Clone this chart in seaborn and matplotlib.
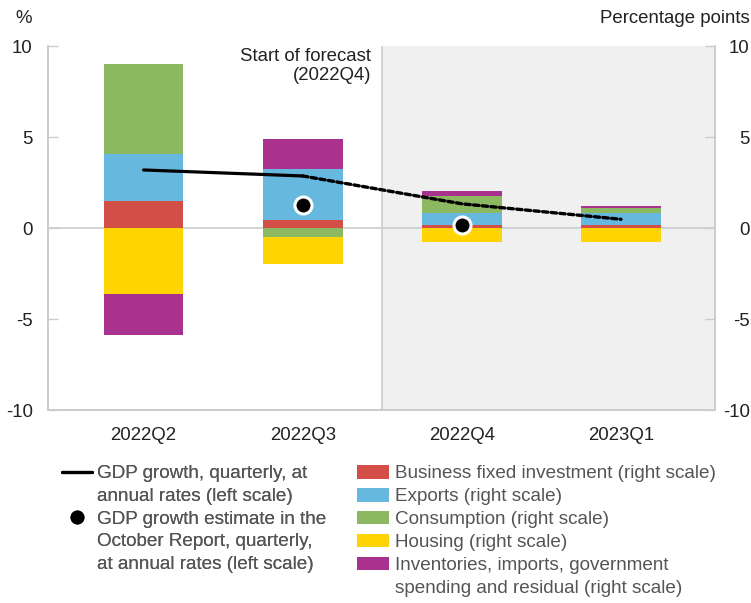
import matplotlib
matplotlib.use('Agg')
import matplotlib.pyplot as plt
import seaborn as sns
import pandas as pd
from matplotlib.lines import Line2D
from matplotlib.patches import Patch

# data
quarters = ['2022Q2', '2022Q3', '2022Q4', '2023Q1']
business = [1.48, 0.42, 0.15, 0.15]
exports = [2.57, 2.82, 0.65, 0.65]
consumption = [4.96, -0.51, 0.97, 0.30]
housing = [-3.63, -1.48, -0.75, -0.75]
inventories = [-2.26, 1.63, 0.25, 0.13]
gdp_growth = [3.19, 2.86, 1.33, 0.48]
october_quarters = ['2022Q3', '2022Q4']
october_estimate = [1.26, 0.15]

components = [
    ('Business fixed investment (right scale)', business, '#D44E48'),
    ('Exports (right scale)', exports, '#67B8DE'),
    ('Consumption (right scale)', consumption, '#8CB862'),
    ('Housing (right scale)', housing, '#FFD400'),
    ('Inventories, imports, government\nspending and residual (right scale)', inventories, '#A8328E'),
]

sns.set_theme(style='white')
plt.rcParams['font.family'] = ['Liberation Sans', 'DejaVu Sans']
plt.rcParams['axes.unicode_minus'] = False

GRID = '#CCCCCC'
FS = 13.4
LFS = 13.6

fig = plt.figure(figsize=(7.51, 6.03), dpi=100)
ax = fig.add_axes([0.064, 0.32, 0.888, 0.6037])
ax.set_xlim(-0.6, 3.59)
ax.set_ylim(-10, 10)

# forecast shading
ax.axvspan(1.5, 3.59, color='#F0F0F0', lw=0, zorder=0)
ax.axvline(1.5, color=GRID, lw=1.2, zorder=0.5)
ax.axhline(0, color=GRID, lw=1.2, zorder=0.5)

# stacked bars, positives and negatives stacked separately
pos = [0.0] * len(quarters)
neg = [0.0] * len(quarters)
xs = list(range(len(quarters)))
for name, vals, color in components:
    bottoms = []
    for i, v in enumerate(vals):
        if v >= 0:
            bottoms.append(pos[i])
            pos[i] += v
        else:
            bottoms.append(neg[i])
            neg[i] += v
    ax.bar(xs, vals, bottom=bottoms, width=0.5, color=color, lw=0, zorder=2)

df = pd.DataFrame({'x': xs, 'gdp': gdp_growth})
sns.lineplot(data=df.iloc[:2], x='x', y='gdp', ax=ax, color='black', lw=2.3,
             solid_capstyle='round', zorder=4)
sns.lineplot(data=df.iloc[1:], x='x', y='gdp', ax=ax, color='black', lw=2.4,
             linestyle=(0, (1.6, 1.0)), dash_capstyle='round', zorder=4)

dots = pd.DataFrame({'x': [quarters.index(q) for q in october_quarters],
                     'est': october_estimate})
sns.scatterplot(data=dots, x='x', y='est', ax=ax, color='black', s=150,
                edgecolor='white', linewidth=2.2, zorder=5)

ax.annotate('Start of forecast\n(2022Q4)', xy=(1.43, 9.9), ha='right', va='top',
            fontsize=FS, color='#222222', linespacing=1.15)

# axes styling
ax.set_xlabel('')
ax.set_ylabel('')
ax.set_xticks(xs)
ax.set_xticklabels(quarters)
ax.set_xticks([-0.5, 0.5, 1.5, 2.5, 3.5], minor=True)
ax.tick_params(axis='x', which='major', length=0, pad=12, labelsize=FS, labelcolor='#222222')
ax.tick_params(axis='x', which='minor', direction='in', length=7, color=GRID, width=1)
ax.set_yticks([-10, -5, 0, 5, 10])
ax.tick_params(axis='y', direction='in', length=7.5, color=GRID, width=1, pad=11,
               labelsize=FS, labelcolor='#222222')

ax2 = ax.twinx()
ax2.set_ylim(-10, 10)
ax2.set_yticks([-10, -5, 0, 5, 10])
ax2.tick_params(axis='y', direction='in', length=7.5, color=GRID, width=1, pad=25,
                labelsize=FS, labelcolor='#222222')
for lbl in ax2.get_yticklabels():
    lbl.set_horizontalalignment('right')

for a in (ax, ax2):
    a.spines['top'].set_visible(False)
    for s in ('left', 'right', 'bottom'):
        a.spines[s].set_color(GRID)
        a.spines[s].set_linewidth(1.2)

fig.text(0.02, 0.97, '%', ha='left', va='center', fontsize=FS, color='#222222')
fig.text(0.998, 0.97, 'Percentage points', ha='right', va='center', fontsize=FS, color='#222222')

# legends, one row per text line so the handles sit on the first line
blank = Line2D([], [], linestyle='none')
left_handles = [Line2D([], [], color='black', lw=2.3), blank,
                Line2D([], [], color='black', marker='o', linestyle='none', markersize=9),
                blank, blank]
left_labels = ['GDP growth, quarterly, at', 'annual rates (left scale)',
               'GDP growth estimate in the', 'October Report, quarterly,',
               'at annual rates (left scale)']
leg1 = fig.legend(left_handles, left_labels, loc='upper left', bbox_to_anchor=(0.082, 0.229),
                  frameon=False, fontsize=LFS, handlelength=1.59, handletextpad=0.26,
                  labelspacing=0.29, labelcolor='#555555', borderaxespad=0, borderpad=0)

right_handles = []
right_labels = []
for name, vals, color in components:
    lines = name.split('\n')
    right_handles.append(Patch(facecolor=color, lw=0))
    right_labels.append(lines[0])
    for extra in lines[1:]:
        right_handles.append(blank)
        right_labels.append(extra)
leg2 = fig.legend(right_handles, right_labels, loc='upper left', bbox_to_anchor=(0.475, 0.229),
                  frameon=False, fontsize=LFS, handlelength=1.72, handleheight=0.74,
                  handletextpad=0.3, labelspacing=0.29, labelcolor='#555555',
                  borderaxespad=0, borderpad=0)
fig.add_artist(leg1)

fig.savefig('out.png', dpi=100)
